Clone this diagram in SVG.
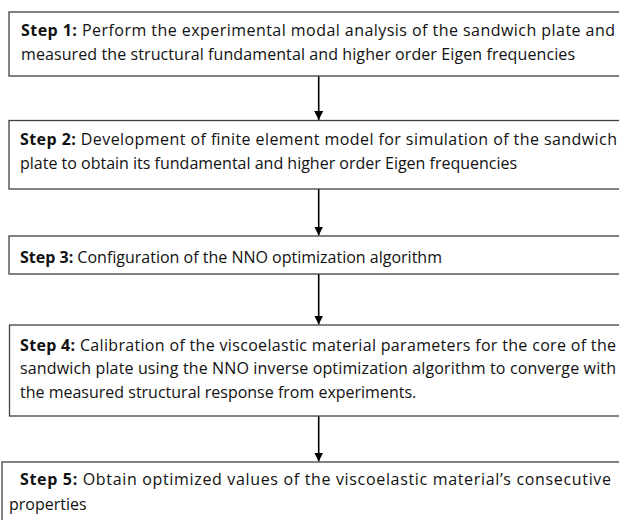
<svg xmlns="http://www.w3.org/2000/svg" width="619" height="520" viewBox="0 0 619 520">
<style>
.box{fill:#fff;stroke:#404040;stroke-width:1.3}
.t{font-family:"Open Sans","Noto Sans","Liberation Sans",sans-serif;font-size:16px;fill:#111}
.b{font-weight:bold}
.c{stroke:#000;stroke-width:1.6;fill:none}
</style>
<defs>
<marker id="ah" viewBox="0 0 10 10" refX="10" refY="5" markerWidth="9" markerHeight="9" markerUnits="userSpaceOnUse" orient="auto">
<path d="M0,0 L10,5 L0,10 z" fill="#000"/>
</marker>
</defs>
<rect width="619" height="520" fill="#fff"/>
<g id="connectors">
<line class="c" x1="318.7" y1="76" x2="318.7" y2="120" marker-end="url(#ah)"/>
<line class="c" x1="318.7" y1="189" x2="318.7" y2="235.5" marker-end="url(#ah)"/>
<line class="c" x1="318.7" y1="274" x2="318.7" y2="324.5" marker-end="url(#ah)"/>
<line class="c" x1="318.7" y1="416" x2="318.7" y2="461.5" marker-end="url(#ah)"/>
</g>
<g id="step1">
<rect class="box" x="9" y="12" width="620" height="64"/>
<text class="t" x="21" y="36" textLength="594" lengthAdjust="spacing"><tspan class="b">Step 1:</tspan> Perform the experimental modal analysis of the sandwich plate and</text>
<text class="t" x="21" y="60" textLength="554" lengthAdjust="spacing">measured the structural fundamental and higher order Eigen frequencies</text>
</g>
<g id="step2">
<rect class="box" x="9" y="120.5" width="620" height="68.5"/>
<text class="t" x="20" y="145" textLength="597" lengthAdjust="spacing"><tspan class="b">Step 2:</tspan> Development of finite element model for simulation of the sandwich</text>
<text class="t" x="20" y="169">plate to obtain its fundamental and higher order Eigen frequencies</text>
</g>
<g id="step3">
<rect class="box" x="9" y="236" width="620" height="38"/>
<text class="t" x="20" y="262.5"><tspan class="b">Step 3:</tspan> Configuration of the NNO optimization algorithm</text>
</g>
<g id="step4">
<rect class="box" x="9.5" y="325" width="620" height="91"/>
<text class="t" x="20" y="350.5" textLength="596" lengthAdjust="spacing"><tspan class="b">Step 4:</tspan> Calibration of the viscoelastic material parameters for the core of the</text>
<text class="t" x="20" y="374" textLength="596" lengthAdjust="spacing">sandwich plate using the NNO inverse optimization algorithm to converge with</text>
<text class="t" x="20" y="398">the measured structural response from experiments.</text>
</g>
<g id="step5">
<rect class="box" x="2" y="462" width="626" height="80"/>
<text class="t" x="20" y="485" textLength="591" lengthAdjust="spacing"><tspan class="b">Step 5:</tspan> Obtain optimized values of the viscoelastic material’s consecutive</text>
<text class="t" x="9" y="510">properties</text>
</g>
</svg>
